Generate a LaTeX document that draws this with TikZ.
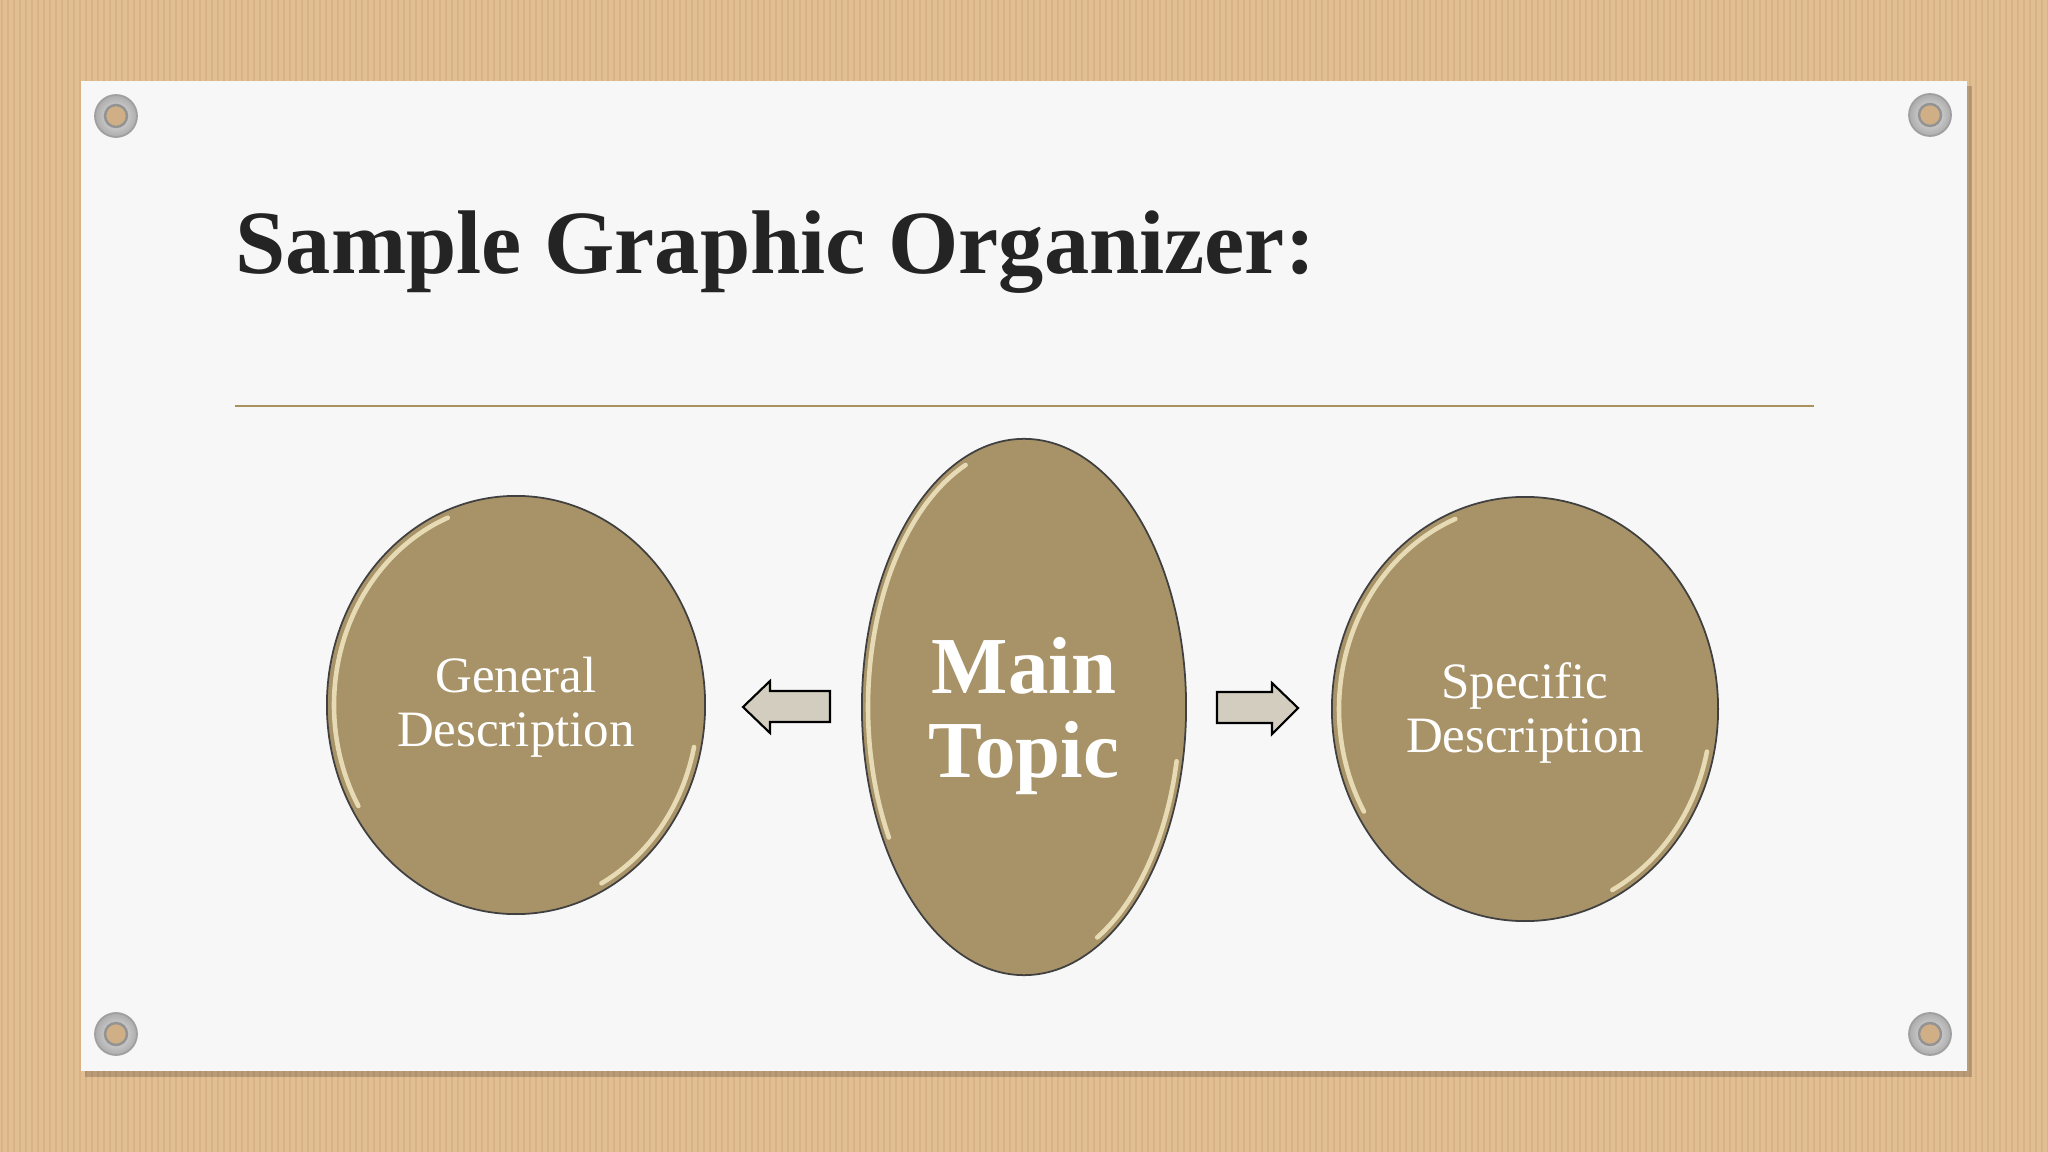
\documentclass[tikz,border=0pt]{standalone}
\usepackage{fontspec}
\setmainfont{Liberation Serif}
\usetikzlibrary{shapes.geometric}
\definecolor{cardboard}{HTML}{E2BE93}
\definecolor{stripe}{HTML}{D2AA7C}
\definecolor{card}{HTML}{F7F7F7}
\definecolor{gold}{HTML}{A89368}
\definecolor{rim}{HTML}{EEE3BE}
\definecolor{rule}{HTML}{A8925E}
\definecolor{arrowfill}{HTML}{D3CDBF}
\definecolor{titlecol}{HTML}{242424}
\begin{document}
\begin{tikzpicture}[x=0.01cm,y=-0.01cm,
  bubble/.style={ellipse, fill=gold, draw=black!75, line width=0.5pt, inner sep=0pt},
  rimline/.style={draw=rim, line width=1.3pt, line cap=round, opacity=0.9},
  lbl/.style={text=white, align=center, font=\fontsize{14.5}{15.5}\selectfont},
  mainlbl/.style={text=white, align=center, font=\bfseries\fontsize{23}{24}\selectfont},
  arrowshape/.style={fill=arrowfill, draw=black, line width=0.6pt, line join=miter},
  screwouter/.style={inner color=gray!20, outer color=gray!65, draw=gray!75, line width=0.5pt},
  screwinner/.style={fill=cardboard!92!black, draw=gray!85, line width=0.7pt}]
\useasboundingbox (0,0) rectangle (2048,1152);
% cardboard background
\fill[cardboard] (0,0) rectangle (2048,1152);
\foreach \x in {2,8,...,2048} {
  \draw[stripe, line width=0.6pt, opacity=0.55] (\x,0) -- (\x,1152);
}
% card with shadow
\fill[black, opacity=0.18] (85,86) rectangle (1972,1077);
\fill[card] (81,81) rectangle (1967,1071);
% screws
\foreach \sx/\sy in {116/116, 1930/115, 116/1034, 1930/1034} {
  \shade[screwouter] (\sx,\sy) circle (21);
  \filldraw[screwinner] (\sx,\sy) circle (11);
}
% title
\node[anchor=base west, inner sep=0pt, text=titlecol, font=\bfseries\fontsize{25.7}{30}\selectfont] (title) at (235,274) {Sample Graphic Organizer:};
% rule
\coordinate (ruleL) at (235,406);
\coordinate (ruleR) at (1814,406);
\draw[rule, line width=0.6pt] (ruleL) -- (ruleR);
% bubbles
\node[bubble, minimum width=3.78cm, minimum height=4.18cm] (gen) at (516,705) {};
\node[bubble, minimum width=3.24cm, minimum height=5.36cm] (main) at (1024,707) {};
\node[bubble, minimum width=3.86cm, minimum height=4.24cm] (spec) at (1525,709) {};
% highlights on the rims
\foreach \cx/\cy/\rx/\ry in {516/705/182/202, 1024/707/156/261, 1525/709/186/205} {
  \draw[rimline] ({\cx+\rx*cos(150)},{\cy+\ry*sin(150)}) arc[start angle=150, end angle=248, x radius=\rx, y radius=\ry];
  \draw[rimline] ({\cx+\rx*cos(12)},{\cy+\ry*sin(12)}) arc[start angle=12, end angle=62, x radius=\rx, y radius=\ry];
}
\node[lbl] (genlbl) at ([yshift=-0.02cm]gen.center) {General\\Description};
\node[mainlbl] (mainlbl) at ([yshift=-0.09cm]main.center) {Main\\Topic};
\node[lbl] (speclbl) at ([yshift=-0.04cm]spec.center) {Specific\\Description};
% arrows
\draw[arrowshape] (743,707) -- (770,681) -- (770,691) -- (830,691) -- (830,722) -- (770,722) -- (770,733) -- cycle;
\draw[arrowshape] (1217,692) -- (1272,692) -- (1272,683) -- (1298,708) -- (1272,734) -- (1272,723) -- (1217,723) -- cycle;
\end{tikzpicture}
\end{document}
